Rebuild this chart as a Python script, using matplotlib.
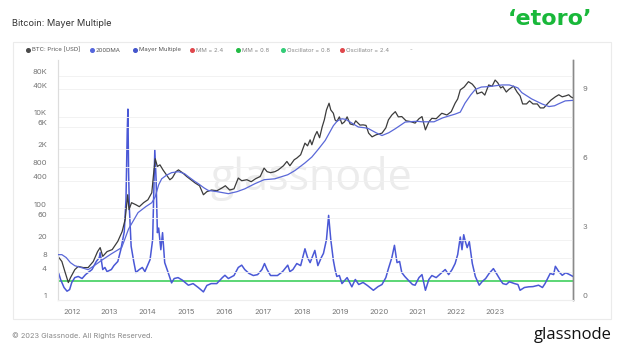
import matplotlib
matplotlib.use("Agg")
import matplotlib.pyplot as plt
import matplotlib.transforms as mtransforms
from matplotlib.patches import Rectangle
from matplotlib.lines import Line2D

plt.rcParams["font.family"] = ["Inter", "DejaVu Sans"]

# ---- data (time in fractional years) ----
price_t = [2011.66, 2011.75, 2011.82, 2011.90, 2011.95, 2012.05, 2012.13, 2012.25, 2012.36, 2012.48,
           2012.58, 2012.64, 2012.70, 2012.80, 2012.92, 2013.05, 2013.15, 2013.22, 2013.28, 2013.31,
           2013.37, 2013.47, 2013.55, 2013.65, 2013.75, 2013.84, 2013.88, 2013.92, 2013.97, 2014.03,
           2014.10, 2014.18, 2014.26, 2014.32, 2014.40, 2014.46, 2014.55, 2014.65, 2014.75, 2014.85,
           2014.95, 2015.04, 2015.12, 2015.23, 2015.35, 2015.47, 2015.55, 2015.65, 2015.75, 2015.85,
           2015.93, 2016.05, 2016.15, 2016.25, 2016.36, 2016.45, 2016.52, 2016.60, 2016.70, 2016.78,
           2016.90, 2016.98, 2017.05, 2017.15, 2017.21, 2017.30, 2017.40, 2017.46, 2017.52, 2017.56,
           2017.63, 2017.68, 2017.74, 2017.80, 2017.85, 2017.90, 2017.96, 2018.00, 2018.06, 2018.10,
           2018.14, 2018.20, 2018.26, 2018.32, 2018.38, 2018.45, 2018.53, 2018.58, 2018.68, 2018.75,
           2018.82, 2018.88, 2018.96, 2019.05, 2019.19, 2019.28, 2019.34, 2019.42, 2019.50, 2019.57,
           2019.65, 2019.75, 2019.85, 2019.96, 2020.05, 2020.12, 2020.20, 2020.28, 2020.35, 2020.45,
           2020.58, 2020.70, 2020.80, 2020.89, 2020.95, 2021.01, 2021.10, 2021.20, 2021.29, 2021.36,
           2021.40, 2021.51, 2021.58, 2021.67, 2021.75, 2021.82, 2021.88, 2021.95, 2022.00, 2022.08,
           2022.14, 2022.25, 2022.33, 2022.40, 2022.46, 2022.55, 2022.62, 2022.70, 2022.80, 2022.87,
           2022.95, 2023.05, 2023.12, 2023.22, 2023.30, 2023.38, 2023.46, 2023.53, 2023.58, 2023.63]
price_usd = [8.8, 6.8, 4.1, 2.35, 3.0, 4.5, 5.3, 5.0, 5.0, 6.8,
             11.2, 13.7, 8.8, 11.2, 12.4, 18.8, 30.6, 56, 197, 93,
             132, 119, 108, 132, 153, 218, 540, 1208, 820, 890,
             690, 540, 420, 465, 630, 690, 600, 495, 420, 355,
             310, 197, 230, 250, 240, 277, 310, 250, 265, 457,
             400, 420, 380, 440, 495, 755, 630, 600, 630, 690,
             850, 1055, 850, 1150, 1250, 1480, 2660, 2320, 3140, 2450,
             3840, 4790, 3490, 6040, 8600, 14200, 19900, 14200, 12000, 8600,
             7900, 10000, 7030, 7800, 10000, 7000, 6680, 8200, 6600, 6680,
             6500, 4400, 3650, 4040, 4400, 5750, 8600, 11000, 13000, 10000,
             10150, 8200, 7900, 7300, 9100, 10150, 5200, 7800, 9300, 9100,
             12000, 11000, 13000, 19900, 24700, 39000, 45000, 59000, 52000, 43000,
             32000, 35000, 30000, 50000, 47000, 64000, 56000, 43000, 46000, 35000,
             40000, 47000, 35000, 28800, 19200, 19200, 22400, 19200, 19200, 15700,
             15700, 20000, 23400, 27500, 30500, 27500, 28800, 30500, 27500, 26000]

dma_t = [2011.66, 2011.75, 2011.85, 2011.95, 2012.05, 2012.20, 2012.36, 2012.50, 2012.70, 2012.90,
         2013.14, 2013.30, 2013.52, 2013.70, 2013.84, 2013.92, 2014.00, 2014.07, 2014.18, 2014.30,
         2014.46, 2014.60, 2014.69, 2014.85, 2014.92, 2015.05, 2015.15, 2015.36, 2015.62, 2015.82,
         2016.00, 2016.24, 2016.45, 2016.70, 2017.00, 2017.17, 2017.40, 2017.56, 2017.70, 2017.87,
         2017.97, 2018.06, 2018.15, 2018.26, 2018.35, 2018.45, 2018.64, 2018.80, 2018.88, 2019.05,
         2019.19, 2019.35, 2019.50, 2019.73, 2020.00, 2020.12, 2020.40, 2020.60, 2020.75, 2020.89,
         2021.01, 2021.12, 2021.25, 2021.36, 2021.50, 2021.67, 2021.98, 2022.15, 2022.24, 2022.35,
         2022.44, 2022.67, 2022.91, 2023.07, 2023.20, 2023.29, 2023.45, 2023.63]
dma_usd = [9.6, 9.6, 8.3, 6.4, 5.5, 5.0, 4.5, 5.5, 7.5, 10,
           13.7, 35, 80, 108, 132, 178, 326, 440, 526, 600,
           630, 570, 490, 380, 345, 280, 245, 230, 208, 230,
           265, 345, 420, 440, 540, 670, 980, 1320, 1900, 3040,
           4500, 6400, 8100, 9100, 8800, 7700, 6000, 5750, 5500, 4500,
           3900, 4500, 5500, 7700, 8000, 7800, 7800, 9500, 10500, 11500,
           12700, 20000, 30000, 40000, 45000, 46000, 50000, 50000, 47000, 43000,
           34000, 24700, 19200, 16800, 17500, 19200, 22400, 23000]

mm_t = [2011.66, 2011.72, 2011.80, 2011.87, 2011.93, 2011.98, 2012.05, 2012.13, 2012.22, 2012.30,
        2012.36, 2012.45, 2012.55, 2012.62, 2012.64, 2012.70, 2012.75, 2012.80, 2012.90, 2012.96,
        2013.05, 2013.12, 2013.20, 2013.24, 2013.27, 2013.285, 2013.30, 2013.32, 2013.36, 2013.42,
        2013.47, 2013.55, 2013.62, 2013.68, 2013.75, 2013.80, 2013.86, 2013.91, 2013.94, 2013.97,
        2014.00, 2014.05, 2014.09, 2014.14, 2014.22, 2014.30, 2014.36, 2014.45, 2014.55, 2014.69,
        2014.80, 2014.92, 2015.04, 2015.12, 2015.22, 2015.35, 2015.48, 2015.54, 2015.62, 2015.75,
        2015.85, 2015.93, 2016.00, 2016.10, 2016.20, 2016.30, 2016.40, 2016.46, 2016.52, 2016.60,
        2016.76, 2016.88, 2017.00, 2017.05, 2017.12, 2017.21, 2017.30, 2017.40, 2017.46, 2017.52,
        2017.63, 2017.70, 2017.78, 2017.83, 2017.90, 2017.95, 2018.00, 2018.06, 2018.10, 2018.14,
        2018.20, 2018.26, 2018.32, 2018.38, 2018.49, 2018.57, 2018.65, 2018.75, 2018.85, 2018.99,
        2019.10, 2019.19, 2019.28, 2019.34, 2019.42, 2019.48, 2019.54, 2019.60, 2019.65, 2019.72,
        2019.80, 2019.90, 2019.96, 2020.05, 2020.12, 2020.20, 2020.28, 2020.35, 2020.45, 2020.58,
        2020.66, 2020.74, 2020.82, 2020.89, 2020.95, 2021.01, 2021.05, 2021.09, 2021.12, 2021.17,
        2021.22, 2021.29, 2021.36, 2021.45, 2021.52, 2021.60, 2021.68, 2021.78, 2021.85, 2021.95,
        2022.00, 2022.08, 2022.15, 2022.27, 2022.35, 2022.40, 2022.50, 2022.60, 2022.70, 2022.83,
        2022.92, 2022.98, 2023.05, 2023.10, 2023.18, 2023.22, 2023.30, 2023.38, 2023.46, 2023.53,
        2023.63]
mayer_multiple = [1.23, 0.87, 0.52, 0.36, 0.43, 0.74, 0.95, 1.0, 0.91, 1.08,
                  1.17, 1.3, 1.65, 1.82, 2.03, 1.3, 1.39, 1.21, 1.3, 1.47,
                  1.65, 2.16, 2.94, 4.33, 7.36, 8.26, 5.6, 3.9, 2.31, 1.65,
                  1.17, 1.3, 1.39, 1.21, 1.52, 1.73, 2.6, 6.49, 5.2, 2.9,
                  3.1, 2.16, 2.9, 1.6, 1.17, 0.72, 0.91, 0.95, 0.84, 0.62,
                  0.69, 0.52, 0.33, 0.61, 0.69, 0.69, 0.95, 1.05, 0.91, 1.04,
                  1.39, 1.49, 1.3, 1.13, 1.04, 1.08, 1.3, 1.56, 1.3, 1.04,
                  1.04, 1.21, 1.49, 1.21, 1.3, 1.56, 1.47, 2.2, 1.82, 1.6,
                  2.13, 1.47, 1.82, 2.0, 2.6, 3.65, 2.6, 1.7, 1.3, 1.0,
                  1.04, 0.69, 0.82, 0.95, 0.55, 0.87, 0.65, 0.74, 0.61, 0.4,
                  0.56, 0.65, 0.95, 1.34, 1.82, 2.35, 1.6, 1.65, 1.17, 1.0,
                  0.84, 0.65, 0.62, 0.95, 1.08, 0.4, 0.87, 1.04, 0.95, 1.17,
                  1.3, 1.08, 1.3, 1.56, 1.95, 2.71, 2.16, 2.81, 2.57, 2.25,
                  2.51, 1.56, 1.0, 0.62, 0.78, 0.91, 1.13, 1.34, 1.13, 0.82,
                  0.69, 0.65, 0.77, 0.69, 0.65, 0.4, 0.52, 0.55, 0.56, 0.62,
                  0.52, 0.69, 0.95, 1.13, 1.08, 1.44, 1.21, 1.05, 1.16, 1.1,
                  1.0]
mm_low_band = 0.8

price_ticks = [1, 4, 8, 20, 60, 100, 400, 800, 2000, 6000, 10000, 40000, 80000]
price_tick_labels = ["1", "4", "8", "20", "60", "100", "400", "800", "2K", "6K", "10K", "40K", "80K"]
mm_ticks = [0, 3, 6, 9]
# glassnode's year labels sit where they sit, not on Jan 1
year_tick_pos = [2011.99, 2012.85, 2013.74, 2014.63, 2015.52, 2016.42,
                 2017.33, 2018.21, 2019.11, 2020.01, 2020.91, 2021.81]
year_labels = ["2012", "2013", "2014", "2015", "2016", "2017",
               "2018", "2019", "2020", "2021", "2022", "2023"]

legend_names = ["BTC: Price [USD]", "200DMA", "Mayer Multiple", "MM = 2.4",
                "MM = 0.8", "Oscillator = 0.8", "Oscillator = 2.4"]
legend_colors = ["#4a4a4a", "#5566dd", "#4455cc", "#e0474c", "#22bb44", "#33cc77", "#e0474c"]
legend_x = [28, 92, 135, 192, 238, 283, 342]

C_PRICE = "#3c3c3c"
C_DMA = "#5a68d8"
C_MM = "#4a58d6"
C_GREEN = "#3fcf5e"
TXT = "#777777"

W, H = 624, 351
fig = plt.figure(figsize=(W / 100, H / 100), dpi=100)

# card border
fig.patches.append(Rectangle((13 / W, 1 - 319 / H), 598 / W, 277 / H, transform=fig.transFigure,
                             fill=False, edgecolor="#ebebeb", linewidth=0.8))

ax = fig.add_axes([58 / W, 1 - 299.5 / H, 515 / W, 239.5 / H])
ax2 = ax.twinx()

# watermark
ax.text(0.492, 0.505, "glassnode", transform=ax.transAxes, fontsize=31, color="#ececec",
        ha="center", va="center", family=["Open Sans", "DejaVu Sans"], zorder=0)

ax.set_yscale("log")
ax.set_ylim(1.025, 176000)
ax.set_xlim(price_t[0], price_t[-1])
ax2.set_ylim(0.02, 10.39)

for v in price_ticks:
    ax.axhline(v, color="#f0f0f0", linewidth=0.6, zorder=0)

ax.plot(dma_t, dma_usd, color=C_DMA, linewidth=0.9, zorder=3)
ax.plot(price_t, price_usd, color=C_PRICE, linewidth=0.9, zorder=2)
ax2.plot(mm_t, mayer_multiple, color=C_MM, linewidth=1.1, zorder=3)
ax2.axhline(mm_low_band, color=C_GREEN, linewidth=1.2, zorder=2)

ax.set_yticks(price_ticks)
ax.set_yticklabels(price_tick_labels)
ax.yaxis.set_minor_locator(matplotlib.ticker.NullLocator())
ax2.set_yticks(mm_ticks)
ax.set_xticks(year_tick_pos)
ax.set_xticklabels(year_labels)

ax.tick_params(axis="y", length=0, pad=8, labelsize=5.5, labelcolor=TXT)
ax.tick_params(axis="x", length=0, pad=7, labelsize=5.5, labelcolor=TXT)
ax2.tick_params(axis="y", length=0, pad=7, labelsize=5.5, labelcolor=TXT)

# labels sit a few px above their value line, as in glassnode
lift = mtransforms.ScaledTranslation(0, 4 / 100, fig.dpi_scale_trans)
for lab in ax.get_yticklabels() + ax2.get_yticklabels():
    lab.set_transform(lab.get_transform() + lift)

for a in (ax, ax2):
    a.spines["top"].set_visible(False)
    a.spines["bottom"].set_color("#eeeeee")
    a.spines["left"].set_color("#dddddd")
    a.spines["right"].set_color("#8a8a8a")
    a.spines["right"].set_linewidth(1.0)
ax.set_zorder(ax2.get_zorder() + 1)
ax.patch.set_visible(False)
ax2.set_zorder(0)

# title, logos, legend row
fig.text(12 / W, 1 - 23 / H, "Bitcoin: Mayer Multiple", fontsize=6.6, color="#333333", va="center")
fig.text(550 / W, 1 - 19 / H, "ʻetoroʼ", fontsize=16, color="#19b83a", fontweight="bold",
         ha="center", va="center", family=["DejaVu Sans"])

for name, col, x in zip(legend_names, legend_colors, legend_x):
    fig.add_artist(Line2D([x / W], [1 - 50 / H], marker="o", markersize=2.6, color=col,
                          linestyle="none", transform=fig.transFigure))
    fig.text((x + 4) / W, 1 - 50 / H, name, fontsize=4.3, color="#555555" if x < 180 else "#888888",
             va="center")
fig.text(410 / W, 1 - 50 / H, "-", fontsize=4.3, color="#999999", va="center")

fig.text(12 / W, 1 - 336 / H, "© 2023 Glassnode. All Rights Reserved.", fontsize=5.3,
         color="#888888", va="center")
fig.text(612 / W, 1 - 335 / H, "glassnode", fontsize=12, color="#111111", ha="right", va="center",
         family=["Open Sans", "DejaVu Sans"])

fig.savefig("out.png", dpi=100)
